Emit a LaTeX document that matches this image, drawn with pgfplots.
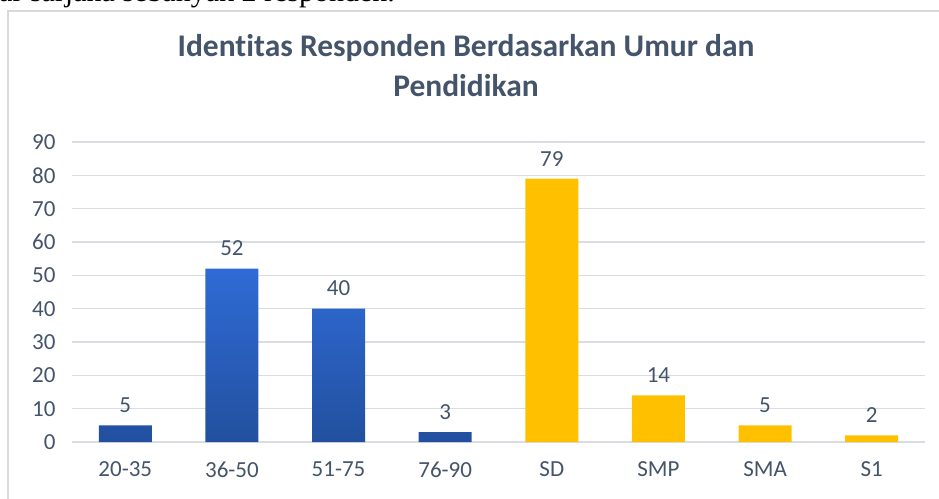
\documentclass[border=0pt]{standalone}
\usepackage{fontspec}
\setmainfont{Carlito}[Ligatures=NoCommon]
\newfontfamily\serifbody{Liberation Serif}
\usepackage{pgfplots}
\pgfplotsset{compat=1.18}
\definecolor{txt}{HTML}{44546A}
\definecolor{gridc}{HTML}{D9DDE3}
\definecolor{frame}{HTML}{D9D9D9}
\definecolor{blueT}{HTML}{2F6BD6}
\definecolor{blueB}{HTML}{22509F}
\definecolor{gold}{HTML}{FFC000}
\begin{document}
\begin{tikzpicture}
\path[use as bounding box] (0,0) rectangle (939pt,498pt);
\clip (0,0) rectangle (939pt,498pt);
\node[anchor=base west, inner sep=0pt, font=\serifbody\fontsize{30}{34}\selectfont] at (-1pt,496pt) {ar sarjana sebanyak 2 responden.};
\draw[frame, line width=1.2pt] (8pt,-20pt) -- (8pt,487pt) -- (960pt,487pt);
\node[anchor=base, inner sep=0pt, text=txt, font=\bfseries\fontsize{31.5}{40}\selectfont] at (466pt,441pt) {Identitas Responden Berdasarkan Umur dan};
\node[anchor=base, inner sep=0pt, text=txt, font=\bfseries\fontsize{31.5}{40}\selectfont] at (466pt,401pt) {Pendidikan};
\begin{axis}[
  scale only axis,
  width=853pt, height=300pt,
  at={(72pt,56pt)}, anchor=south west,
  xmin=-0.5, xmax=7.5, ymin=0, ymax=90,
  ytick={0,10,...,90},
  xtick={0,...,7},
  xticklabels={20-35,36-50,51-75,76-90,SD,SMP,SMA,S1},
  ymajorgrids,
  grid style={color=gridc, line width=1.3pt},
  axis line style={draw=none},
  major tick length=0pt,
  clip=false,
  /pgf/number format/assume math mode=true,
  tick label style={font=\fontsize{23}{27}\selectfont, text=txt},
  xticklabel style={yshift=-16pt},
  yticklabel style={xshift=-13pt},
  nodes near coords style={font=\fontsize{23}{27}\selectfont, text=txt, yshift=9pt},
]
\addplot[ybar, bar width=53pt, draw=none, top color=blueT, bottom color=blueB, nodes near coords]
  coordinates {(0,5) (1,52) (2,40) (3,3)};
\addplot[ybar, bar width=53pt, draw=none, fill=gold, nodes near coords]
  coordinates {(4,79) (5,14) (6,5) (7,2)};
\end{axis}
\end{tikzpicture}
\end{document}
